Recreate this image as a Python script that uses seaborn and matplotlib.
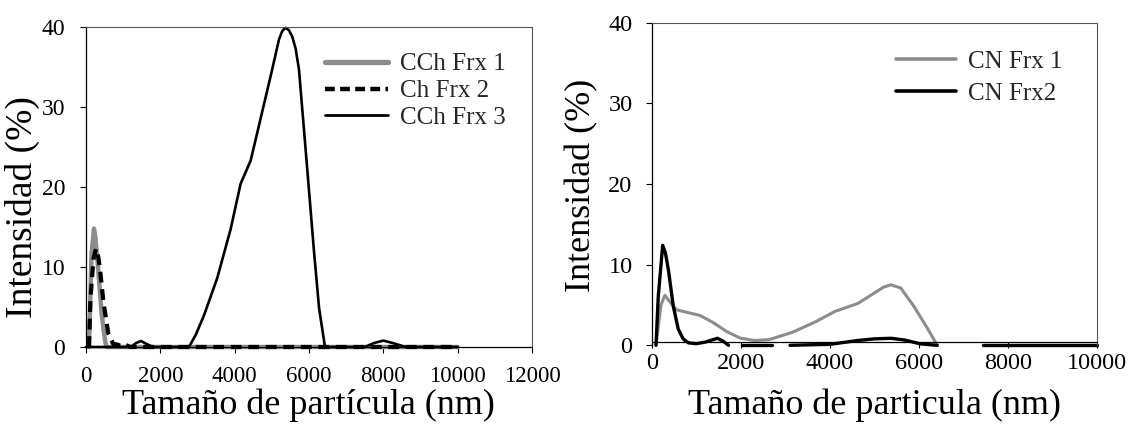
import numpy as np
import pandas as pd
import matplotlib
matplotlib.use("Agg")
import matplotlib.pyplot as plt
from matplotlib.lines import Line2D
import seaborn as sns

# ---------------- data ----------------
# Left panel
cch1_x = [80, 150, 215, 250, 330, 420, 510, 550, 1000, 10000]
cch1_y = [0, 11.7, 14.8, 13.8, 9.6, 4.2, 0.9, 0, 0, 0]

ch2_x = [80, 120, 200, 270, 320, 380, 470, 600, 730, 850, 950, 1050, 1200, 10000]
ch2_y = [0, 6.0, 11.0, 12.3, 11.6, 9.6, 5.6, 1.7, 0.4, 0.3, 0.1, 0.3, 0, 0]

cch3_x = [0, 1200, 1350, 1480, 1620, 1800, 2770, 2950, 3170, 3530, 3890, 4160,
          4430, 4700, 4970, 5190, 5280, 5370, 5460, 5550, 5640, 5730, 5950,
          6130, 6270, 6430, 7500, 7750, 8000, 8250, 8600, 10000]
cch3_y = [0, 0, 0.5, 0.75, 0.4, 0, 0, 1.5, 3.9, 8.6, 14.7, 20.4, 23.3, 28.6,
          33.9, 38.4, 39.5, 39.9, 39.6, 38.8, 37.3, 34.7, 22.4, 12.2, 4.9, 0,
          0, 0.5, 0.8, 0.5, 0, 0]

# Right panel (segments separated; gaps in the original curves)
cn1_x = [90, 200, 290, 400, 550, 850, 1080, 1380, 1680, 1980, 2300, 2630, 3150,
         3670, 4110, 4630, 5000, 5200, 5370, 5590, 5890, 6190, 6410, 7440, 10000]
cn1_y = [0, 5.0, 6.2, 5.4, 4.4, 4.0, 3.7, 2.8, 1.7, 0.9, 0.6, 0.7, 1.6, 2.9,
         4.2, 5.2, 6.5, 7.2, 7.5, 7.1, 4.8, 2.1, 0, 0, 0]
cn1_seg = [1] * 23 + [2] * 2

cn2_x = [90, 140, 240, 300, 370, 480, 590, 700, 820, 1000, 1200, 1470, 1600, 1720,
         2020, 2690,
         3100, 4000, 4630, 5000, 5370, 5670, 6040, 6410,
         7440, 10000]
cn2_y = [0, 6.0, 12.4, 11.5, 9.3, 4.8, 2.0, 0.8, 0.3, 0.2, 0.4, 0.87, 0.5, 0,
         0, 0,
         0, 0.12, 0.6, 0.8, 0.87, 0.66, 0.17, 0,
         0, 0]
cn2_seg = [1] * 14 + [2] * 2 + [3] * 8 + [4] * 2

left_labels = ["CCh Frx 1", "Ch Frx 2", "CCh Frx 3"]
right_labels = ["CN Frx 1", "CN Frx2"]
xlabel_left = "Tamaño de partícula (nm)"
xlabel_right = "Tamaño de particula (nm)"
ylabel = "Intensidad (%)"
left_xticks = [0, 2000, 4000, 6000, 8000, 10000, 12000]
right_xticks = [0, 2000, 4000, 6000, 8000, 10000]
yticks = [0, 10, 20, 30, 40]

# ---------------- style ----------------
sns.set_theme(style="white")
plt.rcParams["font.family"] = ["Liberation Serif", "DejaVu Serif"]
GRAY = "#8c8c8c"

fig = plt.figure(figsize=(11.37, 4.28), dpi=100)
W, H = 1137, 428
axL = fig.add_axes([86 / W, 1 - 347 / H, (532 - 86) / W, (347 - 27) / H])
axR = fig.add_axes([652 / W, 1 - 345.3 / H, (1097 - 652) / W, (345.3 - 22.7) / H])

# ---- left panel ----
dfL1 = pd.DataFrame({"x": cch1_x, "y": cch1_y})
dfL2 = pd.DataFrame({"x": ch2_x, "y": ch2_y})
dfL3 = pd.DataFrame({"x": cch3_x, "y": cch3_y})
sns.lineplot(data=dfL1, x="x", y="y", ax=axL, color=GRAY, lw=3.2,
             sort=False, estimator=None, clip_on=False)
sns.lineplot(data=dfL2, x="x", y="y", ax=axL, color="black", lw=3.0,
             sort=False, estimator=None, clip_on=False,
             linestyle=(0, (2.6, 1.6)))
sns.lineplot(data=dfL3, x="x", y="y", ax=axL, color="black", lw=1.9,
             sort=False, estimator=None, clip_on=False)
hL = [Line2D([], [], color=GRAY, lw=3.8),
      Line2D([], [], color="black", lw=3.2, linestyle=(0, (2.2, 1.2))),
      Line2D([], [], color="black", lw=2.0)]

# ---- right panel ----
dfR1 = pd.DataFrame({"x": cn1_x, "y": cn1_y, "seg": cn1_seg})
dfR2 = pd.DataFrame({"x": cn2_x, "y": cn2_y, "seg": cn2_seg})
sns.lineplot(data=dfR1, x="x", y="y", units="seg", estimator=None, ax=axR,
             color=GRAY, lw=2.2, sort=False, clip_on=False)
sns.lineplot(data=dfR2, x="x", y="y", units="seg", estimator=None, ax=axR,
             color="black", lw=2.4, sort=False, clip_on=False)
hR = [Line2D([], [], color=GRAY, lw=2.6), Line2D([], [], color="black", lw=2.6)]

for ax, xt, xmax in [(axL, left_xticks, 12000), (axR, right_xticks, 10000)]:
    ax.set_xlim(0, xmax)
    ax.set_ylim(0, 40)
    ax.set_xticks(xt)
    ax.set_yticks(yticks)
    ax.set_xticklabels([str(v) for v in xt])
    ax.set_yticklabels([str(v) for v in yticks])
    for s in ["top", "right"]:
        ax.spines[s].set_color("#555555")
        ax.spines[s].set_linewidth(0.8)
    for s in ["left", "bottom"]:
        ax.spines[s].set_color("black")
        ax.spines[s].set_linewidth(0.9)
    ax.tick_params(axis="both", direction="out", length=4, width=0.8,
                   color="black", labelcolor="black", bottom=True, left=True)

axR.spines["bottom"].set_position(("data", 0.45))

axL.tick_params(axis="x", labelsize=16.5, pad=10)
axL.tick_params(axis="y", labelsize=17, pad=11)
axR.tick_params(axis="x", labelsize=17.5, pad=4)
axR.tick_params(axis="y", labelsize=17.5, pad=10)

axL.set_xlabel(xlabel_left, fontsize=26, color="black")
axR.set_xlabel(xlabel_right, fontsize=26, color="black")
axL.set_ylabel(ylabel, fontsize=27, color="black")
axR.set_ylabel(ylabel, fontsize=26, color="black")
axL.xaxis.set_label_coords(0.498, -0.13)
axR.xaxis.set_label_coords(0.5, -0.135)
axL.yaxis.set_label_coords(-0.103, 0.4375)
axR.yaxis.set_label_coords(-0.121, 0.497)

axL.legend(hL, left_labels, loc="upper left",
           bbox_to_anchor=(325 / W, 1 - 53 / H),
           bbox_transform=fig.transFigure, frameon=False, fontsize=18,
           handlelength=2.5, handletextpad=0.5, labelspacing=0.17,
           borderpad=0, borderaxespad=0)
axR.legend(hR, right_labels, loc="upper left",
           bbox_to_anchor=(896 / W, 1 - 50 / H),
           bbox_transform=fig.transFigure, frameon=False, fontsize=18,
           handlelength=2.4, handletextpad=0.5, labelspacing=0.4,
           borderpad=0, borderaxespad=0)

fig.savefig("out.png", dpi=100, facecolor="white")
